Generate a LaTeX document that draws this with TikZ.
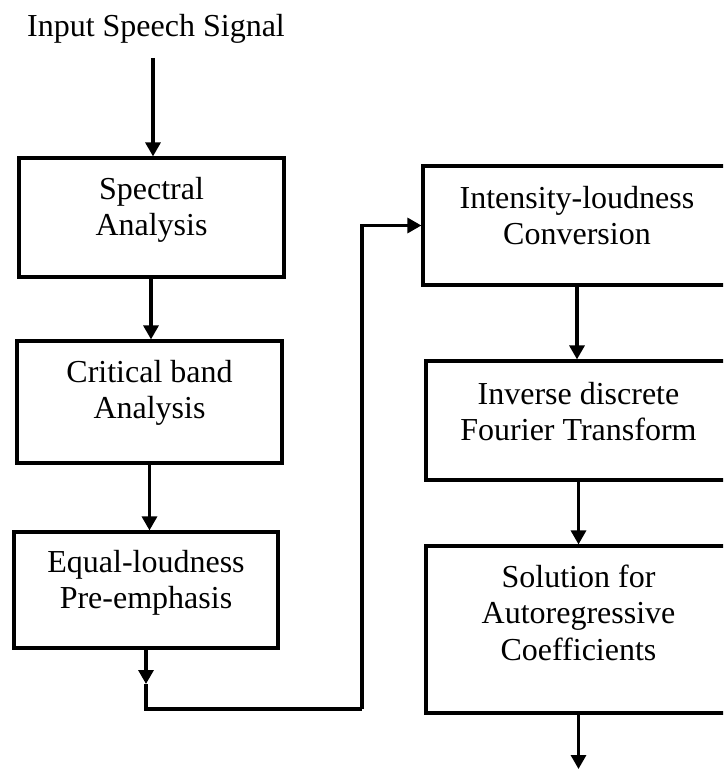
\documentclass[tikz,border=0pt]{standalone}
\usepackage{fontspec}
\setmainfont{Liberation Serif}
\usetikzlibrary{arrows.meta}

\tikzset{
  block/.style={draw=black, line width=3.2pt, fill=white, inner sep=0pt},
  txt/.style={font=\fontsize{32}{36.5}\selectfont, align=center, inner sep=0pt, anchor=base},
  conn/.style={line width=3.2pt, draw=black},
  arr/.style={conn, -{Triangle[width=15pt,length=14pt]}}
}

\begin{document}
\begin{tikzpicture}[x=1pt, y=-1pt]
  \useasboundingbox (0,0) rectangle (723,770);
  \clip (0,0) rectangle (723,770);

  % input label
  \node[txt] (title) at (156,37) {Input Speech Signal};

  % left column
  \node[block, minimum width=265pt, minimum height=119pt] (spec)  at (151.5,217.5) {};
  \node[block, minimum width=265pt, minimum height=122pt] (crit)  at (149.5,402) {};
  \node[block, minimum width=264pt, minimum height=116pt] (equal) at (146,590) {};

  % right column (boxes run past the right edge)
  \node[block, minimum width=308pt, minimum height=119pt] (inten) at (577,225.5) {};
  \node[block, minimum width=305pt, minimum height=119pt] (idft)  at (578.5,420.5) {};
  \node[block, minimum width=305pt, minimum height=167pt] (sol)   at (578.5,629.5) {};

  % box captions, placed by the baseline of their last line
  \node[txt] (specT)  at (151.5,235.5) {Spectral\\Analysis};
  \node[txt] (critT)  at (149.5,418.5) {Critical band\\Analysis};
  \node[txt] (equalT) at (146,608.5)   {Equal-loudness\\Pre-emphasis};
  \node[txt] (intenT) at (577,244.5)   {Intensity-loudness\\Conversion};
  \node[txt] (idftT)  at (578.5,440.5) {Inverse discrete\\Fourier Transform};
  \node[txt] (solT)   at (578.5,660)   {Solution for\\Autoregressive\\Coefficients};

  % helper points for free ends and bends
  \coordinate (inTop) at (153,58);
  \coordinate (eqTip) at (equal.south |- 0,684);
  \coordinate (turn)  at (362,709);
  \coordinate (outEnd) at (sol.south |- 0,769);

  % connectors
  \draw[arr] (inTop) -- (inTop |- spec.north);
  \draw[arr] (151,0 |- spec.south) -- (151,0 |- crit.north);
  \draw[arr] (crit.south) -- (crit.south |- equal.north);
  \draw[arr] (equal.south) -- (eqTip);
  \draw[conn] (eqTip) |- (turn);
  \draw[arr] (turn) |- (inten.west);
  \draw[arr] (inten.south) -- (inten.south |- idft.north);
  \draw[arr] (idft.south) -- (sol.north);
  \draw[arr] (sol.south) -- (outEnd);
\end{tikzpicture}
\end{document}
